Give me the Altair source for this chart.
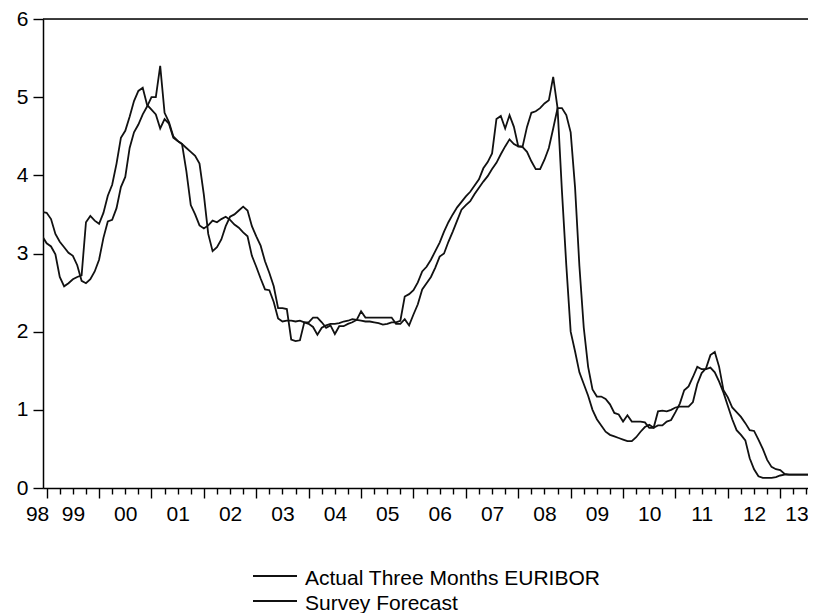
import altair as alt
import pandas as pd

# ---- data (month-end values, Dec 1998 .. Sep 2013) ----
first_year, first_month = 1998, 12
actual = [
    3.22,
    3.13, 3.09, 2.99, 2.70, 2.58, 2.62, 2.67, 2.70, 2.72, 3.40, 3.48, 3.42,
    3.38, 3.52, 3.74, 3.88, 4.15, 4.48, 4.57, 4.75, 4.95, 5.08, 5.12, 4.90,
    4.84, 4.78, 4.60, 4.72, 4.66, 4.48, 4.44, 4.40, 4.05, 3.62, 3.50, 3.36,
    3.32, 3.36, 3.42, 3.40, 3.44, 3.47, 3.43, 3.37, 3.33, 3.27, 3.22, 2.97,
    2.83, 2.68, 2.54, 2.53, 2.38, 2.17, 2.13, 2.14, 2.14, 2.13, 2.14, 2.12,
    2.10, 2.06, 1.96, 2.05, 2.08, 2.10, 2.10, 2.11, 2.13, 2.14, 2.16, 2.15,
    2.14, 2.13, 2.13, 2.12, 2.11, 2.09, 2.10, 2.12, 2.12, 2.14, 2.45, 2.48,
    2.53, 2.63, 2.77, 2.83, 2.92, 3.03, 3.14, 3.28, 3.40, 3.50, 3.59, 3.66,
    3.73, 3.79, 3.87, 3.95, 4.09, 4.17, 4.28, 4.72, 4.76, 4.60, 4.77, 4.62,
    4.37, 4.37, 4.62, 4.80, 4.82, 4.86, 4.92, 4.96, 5.26, 4.86, 3.80, 2.85,
    2.00, 1.75, 1.48, 1.33, 1.18, 1.00, 0.88, 0.80, 0.72, 0.68, 0.66, 0.64,
    0.62, 0.60, 0.60, 0.65, 0.72, 0.78, 0.81, 0.77, 0.80, 0.80, 0.85, 0.87,
    0.97, 1.08, 1.25, 1.30, 1.42, 1.55, 1.52, 1.52, 1.54, 1.48, 1.36, 1.22,
    1.05, 0.88, 0.74, 0.68, 0.61, 0.38, 0.24, 0.15, 0.13, 0.13, 0.13, 0.14,
    0.16, 0.17, 0.17, 0.17, 0.17, 0.17, 0.17, 0.17, 0.17,
]
forecast = [
    3.53,
    3.52, 3.44, 3.25, 3.15, 3.08, 3.01, 2.97, 2.85, 2.65, 2.62, 2.67, 2.77,
    2.92, 3.20, 3.41, 3.43, 3.58, 3.85, 3.98, 4.35, 4.55, 4.65, 4.78, 4.88,
    5.00, 5.00, 5.40, 4.80, 4.68, 4.50, 4.44, 4.40, 4.35, 4.30, 4.25, 4.15,
    3.75, 3.25, 3.03, 3.08, 3.18, 3.35, 3.47, 3.50, 3.55, 3.60, 3.55, 3.35,
    3.22, 3.10, 2.90, 2.75, 2.58, 2.30, 2.30, 2.29, 1.90, 1.88, 1.89, 2.12,
    2.12, 2.18, 2.18, 2.12, 2.05, 2.08, 1.97, 2.07, 2.07, 2.10, 2.12, 2.15,
    2.26, 2.18, 2.18, 2.18, 2.18, 2.18, 2.18, 2.18, 2.10, 2.10, 2.16, 2.08,
    2.22, 2.35, 2.54, 2.62, 2.70, 2.82, 2.96, 3.00, 3.15, 3.28, 3.42, 3.56,
    3.62, 3.67, 3.76, 3.84, 3.92, 3.99, 4.08, 4.16, 4.27, 4.37, 4.46, 4.40,
    4.37, 4.36, 4.30, 4.18, 4.08, 4.08, 4.20, 4.35, 4.60, 4.86, 4.86, 4.77,
    4.55, 3.85, 2.84, 2.05, 1.55, 1.26, 1.17, 1.17, 1.14, 1.07, 0.96, 0.94,
    0.85, 0.93, 0.85, 0.85, 0.85, 0.84, 0.77, 0.77, 0.98, 0.99, 0.98, 1.00,
    1.03, 1.04, 1.04, 1.04, 1.10, 1.33, 1.47, 1.53, 1.70, 1.74, 1.55, 1.25,
    1.16, 1.03, 0.97, 0.91, 0.83, 0.74, 0.73, 0.62, 0.50, 0.36, 0.27, 0.24,
    0.23, 0.18, 0.17, 0.17, 0.17, 0.17, 0.17, 0.17, 0.17,
]
series_names = ["Actual Three Months EURIBOR", "Survey Forecast"]
year_labels = ["98", "99", "00", "01", "02", "03", "04", "05", "06", "07",
               "08", "09", "10", "11", "12", "13"]
label_positions = [1998.95] + [y + 0.5 for y in range(1999, 2014)]
y_ticks = [0, 1, 2, 3, 4, 5, 6]

# ---- table ----
t0 = first_year + (first_month - 1) / 12
rows = []
for name, vals in zip(series_names, [actual, forecast]):
    for i, v in enumerate(vals):
        rows.append({"t": t0 + i / 12, "value": v, "series": name})
df = pd.DataFrame(rows)

W, H = 765, 469
x_dom = [1998.93, 1998.93 + W / 52.4]
FONT = "Liberation Sans"
FS = 21

tick_vals = [1998.95] + [y + q / 4 for y in range(1999, 2014) for q in range(4)
                         if y + q / 4 <= x_dom[1]]
label_expr = " : ".join(
    f"abs(datum.value - {p}) < 0.001 ? '{l}'" for p, l in zip(label_positions, year_labels)
) + " : ''"

x_axis = alt.Axis(
    values=tick_vals,
    labelExpr=label_expr,
    tickSize={"condition": {"test": "datum.value % 1 == 0", "value": 10}, "value": 6},
    tickOpacity={"condition": {"test": "datum.value < 1999", "value": 0}, "value": 1},
    labelOffset={"condition": [
        {"test": "datum.value < 1999", "value": -7},
        {"test": "datum.value > 2013", "value": -10},
    ], "value": 0},
    tickColor="black", tickWidth=1.4,
    domainColor="black", domainWidth=1.5,
    labelFont=FONT, labelFontSize=FS, labelColor="black", labelPadding=9,
    labelFlush=False, labelOverlap=False, labelBound=False,
    grid=False, title=None,
)
y_axis = alt.Axis(
    values=y_ticks, format="d",
    tickSize=10, tickColor="black", tickWidth=1.4,
    domainColor="black", domainWidth=1.5,
    labelFont=FONT, labelFontSize=FS, labelColor="black", labelPadding=5,
    grid=False, title=None,
)

lines = alt.Chart(df).mark_line(strokeWidth=1.8, clip=True, interpolate="linear").encode(
    x=alt.X("t:Q", scale=alt.Scale(domain=x_dom, nice=False, zero=False), axis=x_axis),
    y=alt.Y("value:Q", scale=alt.Scale(domain=[0, 6], nice=False), axis=y_axis),
    color=alt.Color("series:N", scale=alt.Scale(domain=series_names, range=["#111111", "#111111"]),
                    legend=None),
)

one = pd.DataFrame({"a": [0]})
top_line = alt.Chart(one).mark_rule(color="black", strokeWidth=1.5).encode(
    x=alt.value(0), x2=alt.value(W), y=alt.value(0)
)

legend_layers = []
for k, name in enumerate(series_names):
    yline = 557 + 25 * k
    legend_layers.append(
        alt.Chart(one).mark_rule(color="#111111", strokeWidth=1.8).encode(
            x=alt.value(210), x2=alt.value(254), y=alt.value(yline)
        )
    )
    legend_layers.append(
        alt.Chart(one).mark_text(text=name, align="left", baseline="alphabetic",
                                 font=FONT, fontSize=FS, color="black").encode(
            x=alt.value(262), y=alt.value(yline + 9)
        )
    )

chart = alt.layer(lines, top_line, *legend_layers).properties(
    width=W, height=H,
    autosize=alt.AutoSizeParams(type="none"),
    padding={"left": 35, "top": 11, "right": 0, "bottom": 125},
).configure_view(stroke=None).configure(background="white")

chart.save("out.html", embed_options={"renderer": "svg", "actions": False})
